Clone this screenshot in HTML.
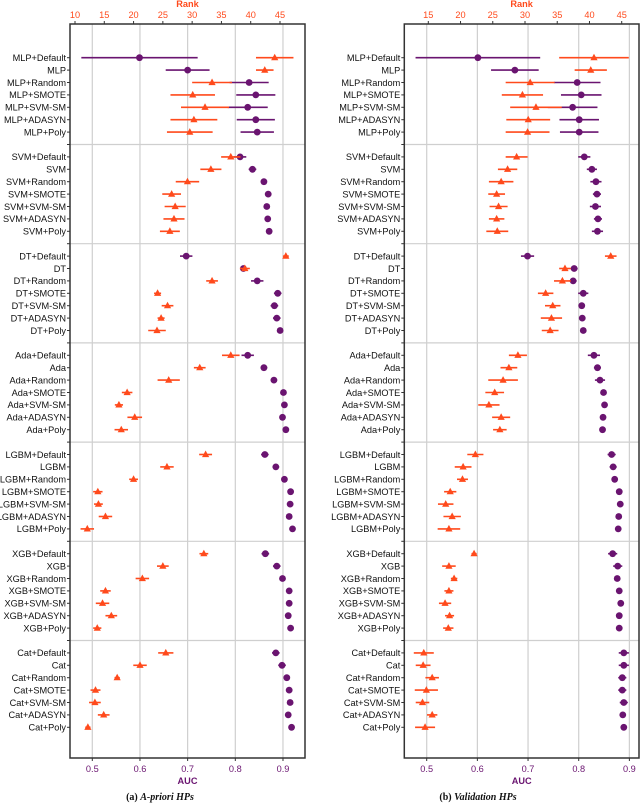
<!DOCTYPE html>
<html><head><meta charset="utf-8">
<style>
body{margin:0;background:#fff;width:640px;height:805px;overflow:hidden}
svg{display:block;font-family:"Liberation Sans","DejaVu Sans",sans-serif}
</style></head>
<body>
<svg id="chart" width="640" height="805" viewBox="0 0 640 805" xmlns="http://www.w3.org/2000/svg"></svg>
<script>
const models = ["MLP","SVM","DT","Ada","LGBM","XGB","Cat"];
const variants = ["+Default","","+Random","+SMOTE","+SVM-SM","+ADASYN","+Poly"];
// Panel (a) A-priori HPs
const aucA = [0.599,0.700,0.829,0.843,0.826,0.843,0.846, 0.810,0.836,0.860,0.869,0.866,0.868,0.871, 0.697,0.817,0.846,0.889,0.882,0.887,0.894, 0.826,0.860,0.881,0.901,0.903,0.899,0.906, 0.862,0.885,0.903,0.916,0.915,0.913,0.920, 0.863,0.887,0.899,0.913,0.913,0.911,0.916, 0.885,0.898,0.908,0.913,0.915,0.911,0.918];
const aucErrA = [0.122,0.046,0.041,0.041,0.042,0.040,0.035, 0.013,0.008,0.006,0.004,0.004,0.004,0.004, 0.013,0.007,0.013,0.008,0.008,0.008,0.006, 0.013,0.007,0.006,0.005,0.005,0.005,0.005, 0.008,0.007,0.004,0.004,0.004,0.004,0.004, 0.008,0.008,0.006,0.004,0.004,0.004,0.004, 0.008,0.008,0.004,0.004,0.004,0.004,0.004];
const rankA = [44.1,42.4,33.4,30.1,32.2,30.3,29.6, 36.6,33.2,29.2,26.5,27.1,26.9,26.2, 46.0,39.0,33.4,24.1,25.8,24.7,24.0, 36.6,31.3,26.0,18.9,17.5,20.2,17.9, 32.3,25.7,20.0,13.9,14.0,15.2,12.1, 32.0,25.0,21.5,15.2,14.7,16.2,13.8, 25.5,21.1,17.2,13.5,13.4,14.9,12.2];
const rankErrA = [3.2,1.5,3.4,3.8,4.1,4.0,3.9, 1.65,1.8,2.0,1.6,1.8,1.8,1.7, 0.5,0.85,1.0,0.6,1.0,0.6,1.5, 1.5,1.0,1.9,0.9,0.7,1.25,1.15, 1.1,1.15,0.75,0.8,0.75,1.15,1.15, 0.75,1.0,1.15,0.9,1.15,1.0,0.7, 1.3,1.15,0.45,0.85,1.0,1.0,0.45];
// Panel (b) Validation HPs
const aucB = [0.601,0.674,0.797,0.805,0.788,0.801,0.801, 0.811,0.826,0.834,0.836,0.833,0.838,0.837, 0.699,0.791,0.789,0.809,0.806,0.807,0.809, 0.830,0.837,0.842,0.849,0.851,0.848,0.847, 0.865,0.868,0.871,0.880,0.882,0.879,0.878, 0.867,0.877,0.876,0.880,0.883,0.880,0.880, 0.889,0.889,0.886,0.886,0.889,0.887,0.889];
const aucErrB = [0.123,0.047,0.046,0.040,0.049,0.039,0.038, 0.012,0.010,0.011,0.008,0.011,0.008,0.011, 0.013,0.007,0.007,0.010,0.005,0.005,0.005, 0.012,0.007,0.010,0.005,0.004,0.005,0.005, 0.008,0.007,0.005,0.004,0.004,0.004,0.004, 0.009,0.009,0.005,0.004,0.004,0.004,0.004, 0.010,0.010,0.008,0.008,0.008,0.005,0.005];
const rankB = [40.7,40.2,30.8,29.6,31.7,30.5,30.4, 28.7,27.3,26.3,25.6,25.9,25.6,25.7, 43.3,36.2,35.8,33.2,34.3,34.1,33.9, 28.9,27.5,26.6,25.3,24.4,26.3,26.1, 22.3,20.4,20.3,18.4,17.7,18.7,18.2, 22.1,18.2,19.0,18.2,17.6,18.3,18.1, 14.3,14.2,15.6,14.7,14.1,15.6,14.5];
const rankErrB = [5.4,2.5,3.8,3.2,4.0,3.4,3.4, 1.7,1.5,1.9,1.3,1.4,1.2,1.7, 0.9,0.9,1.3,1.2,1.2,1.65,1.3, 1.4,1.3,2.3,1.45,1.65,1.4,1.05, 1.25,1.3,0.85,0.95,1.2,1.35,1.75, 0.4,1.05,0.5,0.7,0.95,0.7,0.8, 1.55,1.15,1.05,1.8,1.05,0.8,1.55];
const aucTicks = [0.5,0.6,0.7,0.8,0.9];
const rankTicksA = [10,15,20,25,30,35,40,45];
const rankTicksB = [15,20,25,30,35,40,45];

const NS="http://www.w3.org/2000/svg";
const svg=document.getElementById('chart');
const PUR="#6a1470", ORG="#ff4a1c";
const FS="9.2";
function mk(tag,attrs,parent){const e=document.createElementNS(NS,tag);for(const k in attrs)e.setAttribute(k,attrs[k]);(parent||svg).appendChild(e);return e;}

const TOP=24, BOT=758;
function yPos(i){const g=Math.floor(i/7), r=i%7;return 57.7+(g*8+r)*12.4;}

function panel(cfg){
  const g=mk('g',{});
  
  
  const L=cfg.L,R=cfg.R;
  const xA=a=>cfg.a0px+(a-0.5)*cfg.aScale;
  const xR=r=>cfg.r0px+(r-cfg.r0)*cfg.rScale;
  aucTicks.forEach(t=>{
    const l=mk('line',{x1:xA(t),x2:xA(t),y1:TOP,y2:BOT,stroke:"#cfcfcf","stroke-width":1.2},g);
    
    mk('line',{x1:xA(t),x2:xA(t),y1:BOT,y2:BOT+3,stroke:"#333","stroke-width":1},g);
    const tx=mk('text',{x:xA(t),y:BOT+14,"text-anchor":"middle","font-size":FS,fill:PUR},g);
    tx.textContent=t.toFixed(1);
    
  });
  for(let k=0;k<6;k++){
    const y=57.7+(k*8+7)*12.4;
    const l=mk('line',{x1:L,x2:R,y1:y,y2:y,stroke:"#cfcfcf","stroke-width":1.2},g);
    
    mk('line',{x1:L-3,x2:L,y1:y,y2:y,stroke:"#333","stroke-width":1},g);
  }
  cfg.rTicks.forEach(t=>{
    mk('line',{x1:xR(t),x2:xR(t),y1:TOP-3,y2:TOP,stroke:"#333","stroke-width":1},g);
    const tx=mk('text',{x:xR(t),y:TOP-6,"text-anchor":"middle","font-size":FS,fill:ORG},g);
    tx.textContent=t;
    
  });
  const rt=mk('text',{x:(L+R)/2,y:7,"text-anchor":"middle","font-size":FS,"font-weight":"bold",fill:ORG},g);
  rt.textContent="Rank";
  const at=mk('text',{x:(L+R)/2,y:BOT+26,"text-anchor":"middle","font-size":FS,"font-weight":"bold",fill:PUR},g);
  at.textContent="AUC";
  for(let i=0;i<49;i++){
    const y=yPos(i);
    mk('line',{x1:L-3,x2:L,y1:y,y2:y,stroke:"#333","stroke-width":1},g);
    const tx=mk('text',{x:L-4,y:y+3.3,"text-anchor":"end","font-size":FS,fill:"#111"},g);
    tx.textContent=models[Math.floor(i/7)]+variants[i%7];
    
  }
  for(let i=0;i<49;i++){
    const y=yPos(i);
    const a=cfg.auc[i], ae=cfg.aucErr[i];
    const l1=mk('line',{x1:xA(a-ae),x2:xA(a+ae),y1:y,y2:y,stroke:PUR,"stroke-width":1.6},g);
    
    const c=mk('circle',{cx:xA(a),cy:y,r:3.4,fill:PUR},g);
    
    const r=cfg.rank[i], re=cfg.rankErr[i];
    const l2=mk('line',{x1:xR(r-re),x2:xR(r+re),y1:y,y2:y,stroke:ORG,"stroke-width":1.6},g);
    
    const x=xR(r);
    const t=mk('polygon',{points:`${x},${y-4} ${x-3.6},${y+2.6} ${x+3.6},${y+2.6}`,fill:ORG},g);
    
  }
  const fr=mk('rect',{x:L,y:TOP,width:R-L,height:BOT-TOP,fill:"none",stroke:"#333","stroke-width":1.5},g);
  
  const cap=mk('text',{x:cfg.capX,y:800,"text-anchor":"middle","font-size":"10","font-family":"Liberation Serif,serif","font-weight":"bold",fill:"#111"},g);
  cap.innerHTML=cfg.caption;
  
}
panel({name:'panel-a-apriori',L:70,R:305,a0px:92.3,aScale:476.7,r0:10,r0px:75,rScale:5.857,rTicks:rankTicksA,auc:aucA,aucErr:aucErrA,rank:rankA,rankErr:rankErrA,capX:160,caption:'(a) <tspan font-style="italic">A-priori HPs</tspan>'});
panel({name:'panel-b-validation',L:404.3,R:639,a0px:426.7,aScale:506.7,r0:15,r0px:428.3,rScale:6.447,rTicks:rankTicksB,auc:aucB,aucErr:aucErrB,rank:rankB,rankErr:rankErrB,capX:478,caption:'(b) <tspan font-style="italic">Validation HPs</tspan>'});
</script>
</body></html>
